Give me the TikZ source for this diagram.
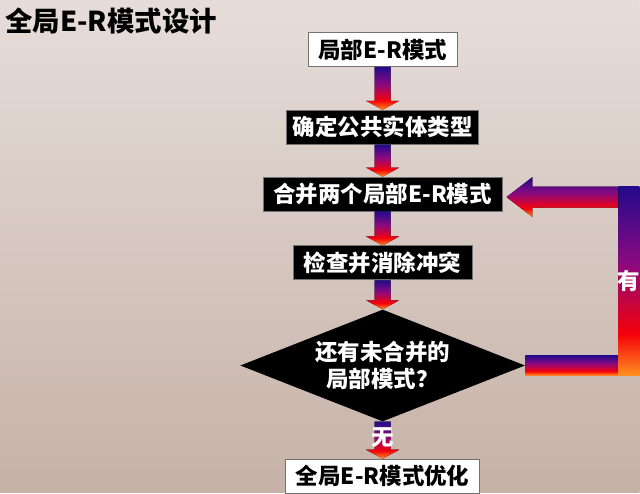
\documentclass[tikz,border=0pt]{standalone}
\usepackage{tikz}
\usepackage{xcolor}
\usepackage{fontspec}
\usetikzlibrary{positioning, shapes.geometric, calc}
\newfontfamily\cjkfont{Noto Sans CJK SC}
\definecolor{cNAVY}{HTML}{230A8C}
\definecolor{cPURP}{HTML}{8A0A80}
\definecolor{cRED}{HTML}{F5000A}
\definecolor{cORNG}{HTML}{FF9020}
\definecolor{cBGTOP}{HTML}{E6DDDA}
\definecolor{cBGBOT}{HTML}{C6B2A7}
\pgfdeclareverticalshading{flowgrad}{100bp}{%
  color(0bp)=(cORNG); color(25bp)=(cORNG); color(36bp)=(cRED);
  color(55bp)=(cPURP); color(75bp)=(cNAVY); color(100bp)=(cNAVY)}
\tikzset{
  stepbox/.style={
    draw=black!55, line width=0.6pt,
    inner sep=3pt,
    minimum height=0.85cm,
    font=\cjkfont\bfseries\fontsize{16}{19}\selectfont
  },
  whitebox/.style={stepbox, fill=white, text=black},
  blackbox/.style={stepbox, fill=black, text=white},
  decision/.style={
    diamond, shape aspect=2.55, fill=black, text=white,
    minimum width=7.125cm, minimum height=2.8cm,
    inner sep=0pt, align=center,
    font=\cjkfont\bfseries\fontsize{16}{19}\selectfont
  },
  flowlabel/.style={
    text=white, inner sep=0pt,
    font=\cjkfont\bfseries\fontsize{16}{19}\selectfont
  }
}
% thick shaded arrow from one node down to the next
\newcommand{\flowarrow}[2]{%
  \fill[shading=flowgrad] ($(#1.south)+(-8,0)$) -- ($(#2.north)+(-8,-9)$)
    -- ($(#2.north)+(-16.5,-9)$) -- (#2.north) -- ($(#2.north)+(16.5,-9)$)
    -- ($(#2.north)+(8,-9)$) -- ($(#1.south)+(8,0)$) -- cycle;%
}

\begin{document}
\begin{tikzpicture}[x=0.025cm, y=-0.025cm]
  \fill[top color=cBGTOP, bottom color=cBGBOT] (0,0) rectangle (640,493);
  \node[anchor=west, inner sep=0pt, font=\cjkfont\bfseries\fontsize{19.5}{22}\selectfont] (title) at (5,21) {全局E-R模式设计};

  \node[whitebox, minimum width=3.725cm] (local) at (383,49.5) {局部E-R模式};
  \node[blackbox, minimum width=4.8cm, below=1.075cm of local] (entity) {确定公共实体类型};
  \node[blackbox, minimum width=5.975cm, below=0.8cm of entity] (merge) {合并两个局部E-R模式};
  \node[blackbox, minimum width=4.475cm, below=0.85cm of merge] (check) {检查并消除冲突};
  \node[decision, below=0.725cm of check] (left) {还有未合并的\\局部模式？};
  \node[whitebox, minimum width=4.85cm, below=0.925cm of left] (global) {全局E-R模式优化};

  \flowarrow{local}{entity}
  \flowarrow{entity}{merge}
  \flowarrow{merge}{check}
  \flowarrow{check}{left}
  \flowarrow{left}{global}
  \node[flowlabel] (none) at ($(left.south)!0.42!(global.north)$) {无};

  % loop back to the merge step
  \coordinate (turn) at ($(left.east)+(103.5,0)$);
  \coordinate (tip) at ($(merge.east)+(4,3)$);
  \fill[shading=flowgrad] ($(left.east)+(0,-10)$) rectangle ($(turn)+(-10.5,10)$);
  \fill[shading=flowgrad] ($(turn |- tip)+(-10.5,-10.5)$) rectangle ($(turn)+(10.5,10)$);
  \fill[shading=flowgrad] (tip) -- ++(26,-20) -- ++(0,9.5)
    -- ($(turn |- tip)+(-10.5,-10.5)$) -- ($(turn |- tip)+(-10.5,10.5)$)
    -- ($(tip)+(26,10.5)$) -- ++(0,9.5) -- cycle;
  \node[flowlabel] (yes) at ($(turn |- tip)!0.5!(turn)$) {有};
\end{tikzpicture}
\end{document}
